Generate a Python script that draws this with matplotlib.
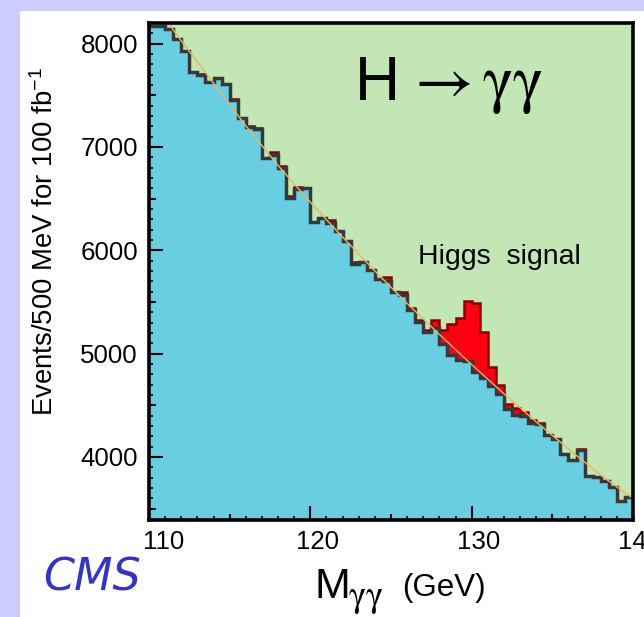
import numpy as np
import matplotlib.pyplot as plt
import matplotlib.transforms as mtransforms
from matplotlib.patches import Rectangle
from matplotlib.ticker import MultipleLocator, FuncFormatter

plt.rcParams['font.family'] = ['Liberation Sans', 'DejaVu Sans']
plt.rcParams['mathtext.fontset'] = 'custom'
plt.rcParams['mathtext.rm'] = 'Liberation Sans'
plt.rcParams['mathtext.it'] = 'Liberation Sans:italic'

# diphoton mass bins, 500 MeV wide, 110 - 140 GeV
mass_edges = np.arange(110.0, 140.01, 0.5)

# events per bin, background + signal
total = [8170, 8170, 8140, 8047, 7932, 7730, 7710, 7627, 7665, 7610,
         7466, 7279, 7205, 7185, 6890, 6947, 6818, 6528, 6609, 6600,
         6271, 6313, 6294, 6190, 6090, 5885, 5884, 5810, 5720, 5740,
         5600, 5594, 5440, 5330, 5224, 5325, 5224, 5285, 5347, 5507,
         5490, 5205, 4873, 4695, 4510, 4470, 4435, 4357, 4330, 4210,
         4175, 4026, 3970, 4074, 3814, 3810, 3770, 3710, 3575, 3615]

# Higgs part of each bin
signal = [0, 0, 0, 0, 0, 0, 15, 0, 0, 0,
          15, 0, 15, 15, 0, 20, 20, 20, 15, 0,
          0, 0, 30, 0, 0, 15, 0, 0, 0, 40,
          0, 30, 20, 20, 15, 75, 127, 302, 406, 577,
          669, 445, 190, 83, 48, 60, 35, 27, 10, 0,
          0, 0, 0, 10, 0, 0, 0, 0, 0, 0]

# smooth background fit
fit_mass = [111.0, 112.0, 114.0, 116.0, 118.0, 120.0, 122.0, 124.0,
            126.0, 128.0, 130.0, 132.0, 134.0, 136.0, 138.0, 140.0]
fit_events = [8240, 8028, 7618, 7205, 6821, 6465, 6128, 5800,
              5486, 5186, 4894, 4612, 4340, 4078, 3824, 3598]

total = np.array(total, dtype=float)
background = total - np.array(signal, dtype=float)

W, H = 644, 617
fig = plt.figure(figsize=(W / 100, H / 100), dpi=100)
fig.patch.set_facecolor('#CCCCFF')
fig.add_artist(Rectangle((20 / W, 0), 1, 1 - 11 / H, transform=fig.transFigure,
                         facecolor='white', edgecolor='none', zorder=-5))

ax = fig.add_axes([149 / W, 1 - 520 / H, 484 / W, 497 / H])
ax.set_facecolor('#C2E6B4')
ax.set_axisbelow(False)

ax.stairs(background, mass_edges, baseline=0, fill=True, color='#68CFE2', zorder=1)
ax.stairs(total, mass_edges, baseline=background, fill=True,
          facecolor='#FF0010', edgecolor='#8B0000', linewidth=1.8, zorder=1.2)
ax.stairs(background, mass_edges, baseline=None, color='#383838', linewidth=2.5, zorder=1.4)
ax.plot(fit_mass, fit_events, color='#F2B25C', linewidth=1.0, zorder=1.6)

ax.set_xlim(110, 140)
ax.set_ylim(3390, 8200)

for s in ax.spines.values():
    s.set_linewidth(2.6)

ax.xaxis.set_major_locator(MultipleLocator(5))
ax.xaxis.set_minor_locator(MultipleLocator(1))
ax.yaxis.set_major_locator(MultipleLocator(500))
ax.yaxis.set_minor_locator(MultipleLocator(100))
ax.xaxis.set_major_formatter(FuncFormatter(lambda v, p: f"{v:.0f}" if round(v) % 10 == 0 else ''))
ax.yaxis.set_major_formatter(FuncFormatter(lambda v, p: f"{v:.0f}" if round(v) % 1000 == 0 else ''))

ax.tick_params(which='major', direction='in', length=10, width=1.5, labelsize=18.6,
               top=False, right=False)
ax.tick_params(which='minor', direction='in', length=3, width=1.2, top=False, right=False)
ax.tick_params(axis='y', which='major', pad=8)
ax.tick_params(axis='x', which='major', pad=7)

# half-way ticks are shorter than the labelled ones
for loc, tick in zip(ax.get_xticks(), ax.xaxis.get_major_ticks()):
    if round(loc) % 10 != 0:
        tick.tick1line.set_markersize(4.5)
for loc, tick in zip(ax.get_yticks(), ax.yaxis.get_major_ticks()):
    if round(loc) % 1000 != 0:
        tick.tick1line.set_markersize(5)

for lab in ax.get_xticklabels():
    shift = 15 if lab.get_text() == '110' else 7
    lab.set_transform(lab.get_transform() +
                      mtransforms.ScaledTranslation(shift / 100, 0, fig.dpi_scale_trans))

fig.text(45 / W, 1 - 242 / H, "Events/500 MeV for 100 fb$^{-1}$", rotation=90,
         ha='center', va='center', fontsize=19.8)

# process label
fig.text(355 / W, 1 - 100 / H, "H", fontsize=45, ha='left', va='baseline')
fig.text(405 / W, 1 - 100 / H, r"$\rightarrow\mathrm{\gamma\gamma}$", fontsize=46,
         ha='left', va='baseline', math_fontfamily='stix')

fig.text(418 / W, 1 - 264 / H, "Higgs  signal", fontsize=20.5, ha='left', va='baseline')

# axis title
fig.text(314 / W, 1 - 598 / H, "M", fontsize=31, ha='left', va='baseline')
fig.text(348 / W, 1 - 606 / H, r"$\mathrm{\gamma\gamma}$", fontsize=26, ha='left',
         va='baseline', math_fontfamily='stix')
fig.text(402 / W, 1 - 596 / H, "(GeV)", fontsize=22.5, ha='left', va='baseline')

fig.text(92 / W, 1 - 578 / H, "CMS", fontsize=32, color='#3333CC', ha='center', va='center',
         family='DejaVu Sans', style='italic')

fig.savefig('out.png', dpi=100, facecolor=fig.get_facecolor())
